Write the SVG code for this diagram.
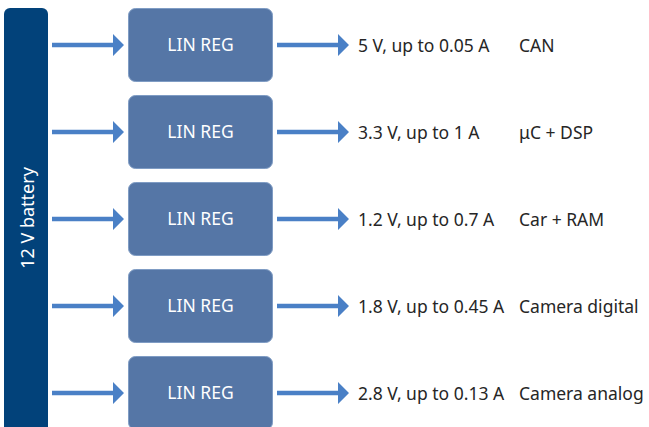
<svg xmlns="http://www.w3.org/2000/svg" width="649" height="427" viewBox="0 0 649 427">
<defs>
<style>
.bat{fill:#02427a;}
.box{fill:#5576a6;stroke:#7f9cc4;stroke-width:1;}
.lbl{font-family:"Noto Sans","Open Sans",sans-serif;font-size:17.5px;fill:#ffffff;text-anchor:middle;}
.out{font-family:"Noto Sans","Open Sans",sans-serif;font-size:17.5px;fill:#262626;}
.sh{stroke:#4a80c6;stroke-width:4.5;fill:none;}
.hd{fill:#4a80c6;}
</style>
</defs>
<rect width="649" height="427" fill="#ffffff"/>
<g id="battery">
<rect class="bat" x="4" y="8" width="44" height="424" rx="6"/>
<text class="lbl" transform="translate(34,218) rotate(-90)" style="font-size:18px">12 V battery</text>
</g>
<g id="reg1"><rect class="box" x="128.5" y="8.5" width="144" height="73" rx="7"/><text class="lbl" x="200.5" y="51">LIN REG</text></g>
<g id="reg2"><rect class="box" x="128.5" y="95.5" width="144" height="73" rx="7"/><text class="lbl" x="200.5" y="138">LIN REG</text></g>
<g id="reg3"><rect class="box" x="128.5" y="182.5" width="144" height="73" rx="7"/><text class="lbl" x="200.5" y="225">LIN REG</text></g>
<g id="reg4"><rect class="box" x="128.5" y="269.5" width="144" height="73" rx="7"/><text class="lbl" x="200.5" y="312">LIN REG</text></g>
<g id="reg5"><rect class="box" x="128.5" y="356.5" width="144" height="73" rx="7"/><text class="lbl" x="200.5" y="399">LIN REG</text></g>
<g id="out1"><text class="out" x="358" y="51.5">5 V, up to 0.05 A</text><text class="out" x="519" y="51.5">CAN</text></g>
<g id="out2"><text class="out" x="358" y="138.5">3.3 V, up to 1 A</text><text class="out" x="519" y="138.5">μC + DSP</text></g>
<g id="out3"><text class="out" x="358" y="225.5">1.2 V, up to 0.7 A</text><text class="out" x="519" y="225.5">Car + RAM</text></g>
<g id="out4"><text class="out" x="358" y="312.5">1.8 V, up to 0.45 A</text><text class="out" x="519" y="312.5">Camera digital</text></g>
<g id="out5"><text class="out" x="358" y="399.5">2.8 V, up to 0.13 A</text><text class="out" x="519" y="399.5">Camera analog</text></g>
<g id="connectors">
<g id="in-arrows">
<path class="sh" d="M52 45H114M52 132H114M52 219H114M52 306H114M52 393H114"/>
<path class="hd" d="M113 34L124 45L113 56ZM113 121L124 132L113 143ZM113 208L124 219L113 230ZM113 295L124 306L113 317ZM113 382L124 393L113 404Z"/>
</g>
<g id="out-arrows">
<path class="sh" d="M277 45H339M277 132H339M277 219H339M277 306H339M277 393H339"/>
<path class="hd" d="M338 34L349 45L338 56ZM338 121L349 132L338 143ZM338 208L349 219L338 230ZM338 295L349 306L338 317ZM338 382L349 393L338 404Z"/>
</g>
</g>
</svg>
